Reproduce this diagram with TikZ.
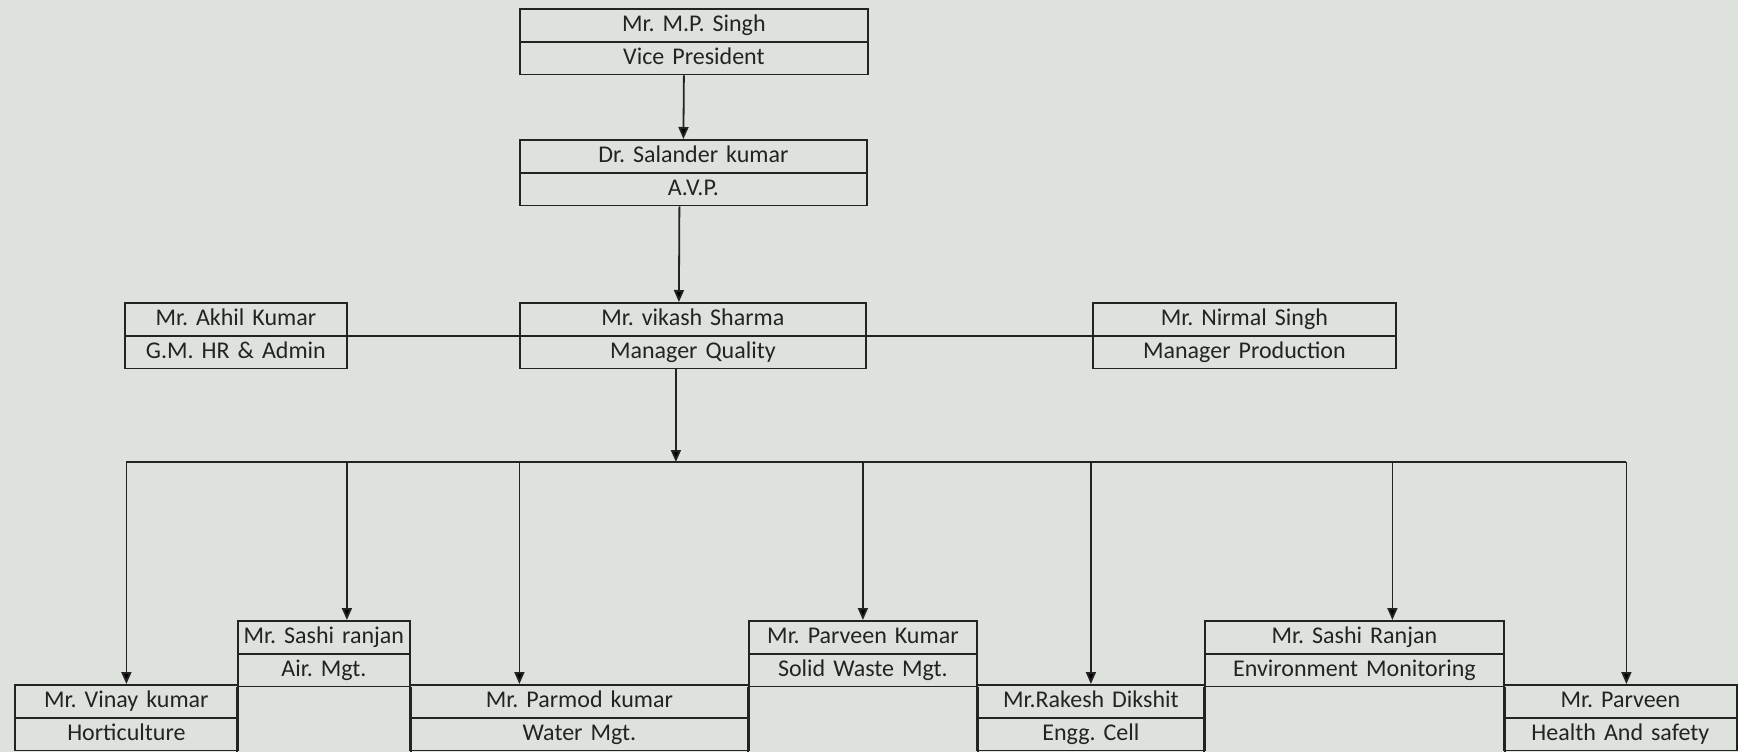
\documentclass[tikz,border=0pt]{standalone}
\usepackage{fontspec}
\setmainfont{Carlito}
\usetikzlibrary{arrows.meta,shapes.multipart}
\definecolor{paper}{RGB}{222,226,221}
\definecolor{ink}{RGB}{35,35,35}
\newcommand{\cellrow}{\rule[-9pt]{0pt}{31pt}}

\begin{document}
\frenchspacing
\begin{tikzpicture}[x=1pt, y=-1pt,
  post/.style={draw=ink, line width=1.8pt, rectangle split, rectangle split parts=2, anchor=north west, inner xsep=0pt, inner ysep=0pt, align=center, text=ink, font=\fontsize{24}{24}\selectfont},
  link/.style={draw=ink, line width=1.8pt},
  arr/.style={link, -{Triangle[length=12pt,width=10pt]}}
]
\useasboundingbox (0,0) rectangle (1738,752);
\fill[paper] (0,0) rectangle (1738,752);
\coordinate (floor) at (0,752);

% top of the chart
\node[post, text width=348pt] (vp) at (519,8) {\cellrow Mr. M.P. Singh\nodepart{two}\cellrow Vice President};
\node[post, text width=347pt] (avp) at (519,139) {\cellrow Dr. Salander kumar\nodepart{two}\cellrow A.V.P.};

% managers
\node[post, text width=222pt] (gm) at (124,302) {\cellrow Mr. Akhil Kumar\nodepart{two}\cellrow G.M. HR \& Admin};
\node[post, text width=346pt] (mq) at (519,302) {\cellrow Mr. vikash Sharma\nodepart{two}\cellrow Manager Quality};
\node[post, text width=303pt] (mp) at (1092,302) {\cellrow Mr. Nirmal Singh\nodepart{two}\cellrow Manager Production};

% cells
\node[post, text width=223pt] (hort) at (14,684) {\cellrow Mr. Vinay kumar\nodepart{two}\cellrow Horticulture};
\node[post, text width=172pt] (air) at (237,620) {\cellrow Mr. Sashi ranjan\nodepart{two}\cellrow Air. Mgt.};
\node[post, text width=339pt] (water) at (409,684) {\cellrow Mr. Parmod kumar\nodepart{two}\cellrow Water Mgt.};
\node[post, text width=228pt] (solid) at (748,620) {\cellrow Mr. Parveen Kumar\nodepart{two}\cellrow Solid Waste Mgt.};
\node[post, text width=228pt] (engg) at (976,684) {\cellrow Mr.Rakesh Dikshit\nodepart{two}\cellrow Engg. Cell};
\node[post, text width=299pt] (env) at (1204,620) {\cellrow Mr. Sashi Ranjan\nodepart{two}\cellrow Environment Monitoring};
\node[post, text width=233pt] (hs) at (1503,684) {\cellrow Mr. Parveen\nodepart{two}\cellrow Health And safety};

% raised cells run down to the edge
\foreach \c in {air,solid,env}{
  \draw[link] (\c.south west) -- (\c.south west |- floor);
  \draw[link] (\c.south east) -- (\c.south east |- floor);
}

\draw[arr] ([xshift=-10pt]vp.south) -- ([xshift=-10pt]avp.north);
\draw[arr] ([xshift=-14pt]avp.south) -- ([xshift=-14pt]mq.north);
\draw[link] (gm.one split east) -- (mp.one split west);

% bus
\coordinate (busL) at (hort.north |- 0,462);
\coordinate (busR) at ([xshift=6pt]hs.north |- 0,462);
\draw[link] (busL) -- (busR);
\draw[arr] ([xshift=-17pt]mq.south) -- ([xshift=-17pt]mq.south |- busL);

\draw[arr] (hort.north |- busL) -- (hort.north);
\draw[arr] ([xshift=23pt]air.north |- busL) -- ([xshift=23pt]air.north);
\draw[arr] ([xshift=-60pt]water.north |- busL) -- ([xshift=-60pt]water.north);
\draw[arr] (solid.north |- busL) -- (solid.north);
\draw[arr] (engg.north |- busL) -- (engg.north);
\draw[arr] ([xshift=38pt]env.north |- busL) -- ([xshift=38pt]env.north);
\draw[arr] ([xshift=6pt]hs.north |- busL) -- ([xshift=6pt]hs.north);
\end{tikzpicture}
\end{document}
